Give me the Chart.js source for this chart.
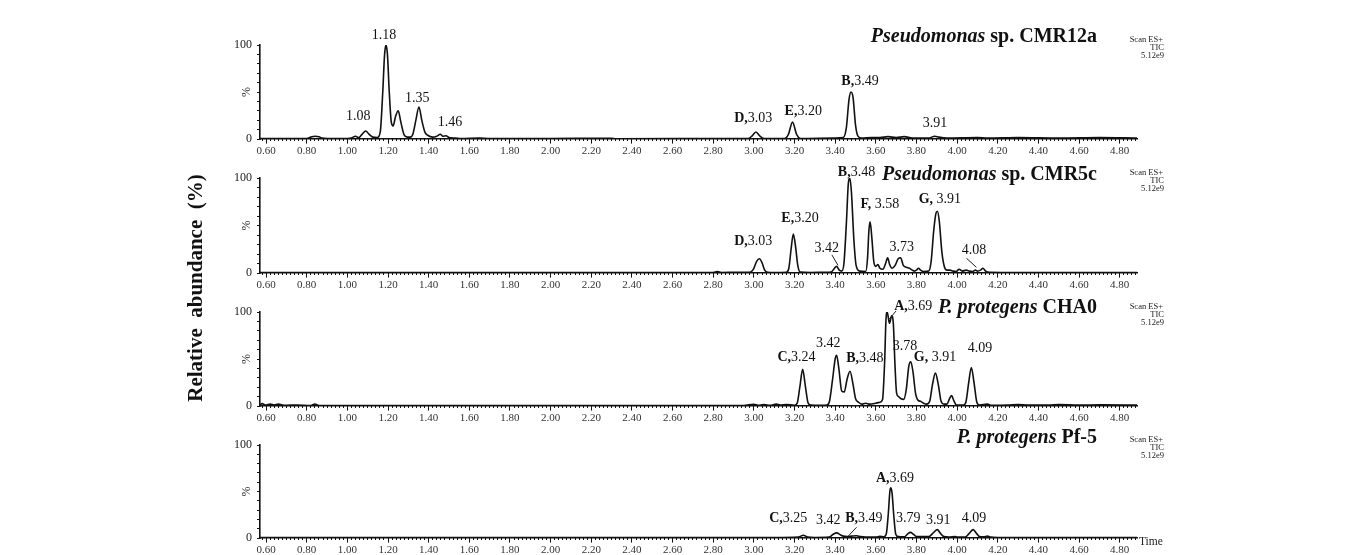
<!DOCTYPE html>
<html>
<head>
<meta charset="utf-8">
<script src="https://cdn.jsdelivr.net/npm/chart.js@4.4.1/dist/chart.umd.min.js"></script>
<style>
html,body{margin:0;padding:0;background:#fff;}
#wrap{position:relative;width:1347px;height:555px;overflow:hidden;background:#fff;}
#wrap canvas{position:absolute;left:0;top:0;}
</style>
</head>
<body>
<div id="wrap">
<canvas id="c1" width="1347" height="555"></canvas>
<canvas id="c2" width="1347" height="555"></canvas>
<canvas id="c3" width="1347" height="555"></canvas>
<canvas id="c4" width="1347" height="555"></canvas>
</div>
<script>
// ---------------- DATA ----------------
// retention time (min) and relative abundance (%)
const cmr12a = [
 [0.57,0.4],[0.70,0.4],[0.80,0.6],[0.82,2],[0.84,3],[0.86,2.5],[0.875,1],[0.90,0.5],[1.00,0.5],[1.02,1],
 [1.04,3],[1.055,1.5],[1.072,5],[1.09,8.5],[1.107,5],[1.125,2],[1.148,1.5],[1.162,8],[1.174,50],[1.183,90],
 [1.19,100],[1.197,90],[1.206,50],[1.216,18],[1.225,14],[1.237,24],[1.25,30],[1.263,18],[1.278,5],[1.295,2],
 [1.31,2],[1.322,5],[1.337,20],[1.352,34],[1.367,19],[1.382,7],[1.395,4],[1.42,2],[1.44,3],[1.457,5],
 [1.47,3],[1.485,3.5],[1.50,1.5],[1.53,1],[1.56,0.5],[1.65,1],[1.70,0.4],[2.00,0.5],[2.30,0.8],[2.32,0.3],
 [2.90,0.4],[2.97,0.5],[2.99,3],[3.01,7.5],[3.03,3],[3.05,0.6],[3.15,0.5],[3.17,5],[3.19,18],[3.21,5],
 [3.23,0.6],[3.40,1],[3.44,1.5],[3.455,12],[3.468,42],[3.478,50],[3.488,44],[3.50,15],[3.512,3],[3.53,1],
 [3.58,1.5],[3.62,1.5],[3.66,2.5],[3.70,1.5],[3.74,2.5],[3.78,1],[3.86,1],[3.89,3],[3.91,2],[3.95,1],
 [4.10,1.5],[4.15,1],[4.30,1.5],[4.50,1],[4.70,1.5],[4.885,1]
];
const cmr5c = [
 [0.57,0.5],[0.70,0.6],[0.90,0.5],[1.20,0.6],[1.60,0.5],[2.00,0.6],[2.40,0.5],[2.80,0.6],[2.82,1.5],[2.84,0.6],
 [2.92,0.8],[2.98,0.8],[2.998,4],[3.013,12],[3.027,15],[3.04,11],[3.053,3],[3.068,0.8],[3.10,0.6],[3.16,0.8],
 [3.172,5],[3.183,25],[3.194,41],[3.205,28],[3.216,8],[3.228,1],[3.28,0.6],[3.35,0.8],[3.38,1],[3.393,4],
 [3.407,7],[3.42,3],[3.432,2],[3.443,10],[3.455,52],[3.465,95],[3.472,100],[3.48,85],[3.492,35],[3.503,8],
 [3.52,2],[3.55,1.5],[3.559,15],[3.566,45],[3.572,54],[3.58,38],[3.59,12],[3.60,7],[3.61,9],[3.62,5],
 [3.635,4],[3.648,10],[3.658,16],[3.668,9],[3.68,5],[3.695,8],[3.71,15],[3.722,16],[3.735,8],[3.75,6],
 [3.765,5],[3.78,3],[3.79,2],[3.80,3],[3.81,5],[3.82,3],[3.835,1.5],[3.86,2],[3.872,12],[3.885,45],
 [3.896,63],[3.903,65],[3.912,55],[3.925,22],[3.938,6],[3.95,3],[3.965,3],[3.98,2],[3.995,1.5],[4.01,4],
 [4.025,2],[4.045,3],[4.06,2],[4.075,1.5],[4.09,3],[4.10,2],[4.115,3],[4.127,5],[4.14,2],[4.16,0.8],
 [4.30,0.6],[4.50,0.6],[4.70,0.5],[4.885,0.5]
];
const cha0 = [
 [0.57,1],[0.58,2.5],[0.60,1],[0.62,2],[0.64,1],[0.66,2],[0.68,1],[0.70,0.8],[0.75,1],[0.82,0.6],
 [0.84,2],[0.86,0.6],[1.00,0.6],[1.50,0.5],[2.00,0.6],[2.50,0.5],[2.95,0.6],[3.00,1.8],[3.02,0.8],[3.05,1.5],
 [3.08,0.8],[3.11,2],[3.13,1],[3.16,1.5],[3.20,0.8],[3.213,3],[3.226,20],[3.24,39],[3.254,20],[3.267,3],
 [3.28,1],[3.33,0.8],[3.36,1],[3.372,5],[3.387,28],[3.40,50],[3.407,54],[3.418,40],[3.432,16],[3.445,15],
 [3.458,28],[3.473,37],[3.487,24],[3.50,8],[3.515,4],[3.53,2],[3.55,3],[3.57,2],[3.60,3],[3.62,4],
 [3.633,7],[3.643,45],[3.65,92],[3.656,100],[3.667,88],[3.678,96],[3.686,88],[3.694,45],[3.702,14],[3.712,10],
 [3.722,8],[3.737,7],[3.75,18],[3.762,42],[3.772,47],[3.783,36],[3.795,14],[3.808,6],[3.82,5],[3.835,3],
 [3.85,2],[3.865,5],[3.878,22],[3.893,35],[3.908,22],[3.92,6],[3.935,2],[3.95,2],[3.963,8],[3.973,11],
 [3.983,6],[3.997,1],[4.03,1],[4.043,4],[4.057,25],[4.07,41],[4.083,25],[4.097,4],[4.11,1],[4.15,2],
 [4.165,0.8],[4.25,1],[4.30,1.5],[4.35,1],[4.45,1],[4.50,1.5],[4.60,1],[4.70,1.2],[4.885,1]
];
const pf5 = [
 [0.57,0.5],[1.00,0.5],[1.50,0.6],[2.00,0.5],[2.50,0.5],[3.00,0.6],[3.10,0.5],[3.22,1],[3.243,3],[3.265,1],
 [3.30,0.6],[3.37,1],[3.39,4],[3.407,5.5],[3.425,3.5],[3.44,2],[3.46,1.5],[3.48,2],[3.505,2.5],[3.525,1.5],
 [3.55,1],[3.60,1],[3.62,1.8],[3.64,1.2],[3.652,5],[3.662,28],[3.669,50],[3.674,54],[3.68,48],[3.688,25],
 [3.698,4],[3.71,1.5],[3.74,1.2],[3.755,4],[3.77,6],[3.785,4],[3.80,1.5],[3.83,1.5],[3.86,1.5],[3.885,6],
 [3.902,9],[3.918,5],[3.935,1.5],[3.96,1],[3.99,1.5],[4.00,1],[4.04,1],[4.06,5],[4.079,9],[4.095,5],
 [4.11,1.5],[4.13,1.2],[4.15,2],[4.165,1],[4.20,0.6],[4.40,0.5],[4.60,0.6],[4.885,0.5]
];

// peak annotations: [bold tag, retention time text, time anchor, abundance anchor]
const cmr12aPeaks = [
 ['', '1.18', 1.18, 110], ['', '1.08', 1.054, 24], ['', '1.35', 1.344, 43], ['', '1.46', 1.505, 18],
 ['D,', '3.03', 2.997, 22], ['E,', '3.20', 3.243, 29], ['B,', '3.49', 3.522, 61], ['', '3.91', 3.891, 17]
];
const cmr5cPeaks = [
 ['B,', '3.48', 3.505, 106], ['D,', '3.03', 2.997, 33], ['E,', '3.20', 3.227, 58], ['', '3.42', 3.358, 26],
 ['F, ', '3.58', 3.62, 72], ['', '3.73', 3.727, 27], ['G, ', '3.91', 3.915, 78], ['', '4.08', 4.083, 24]
];
const cha0Peaks = [
 ['A,', '3.69', 3.784, 106], ['C,', '3.24', 3.21, 52], ['', '3.42', 3.366, 67], ['B,', '3.48', 3.546, 51],
 ['', '3.78', 3.743, 63], ['G, ', '3.91', 3.891, 52], ['', '4.09', 4.112, 61]
];
const pf5Peaks = [
 ['A,', '3.69', 3.694, 64], ['C,', '3.25', 3.169, 21], ['', '3.42', 3.366, 19], ['B,', '3.49', 3.541, 21],
 ['', '3.79', 3.759, 21], ['', '3.91', 3.907, 19], ['', '4.09', 4.083, 21]
];
// leader lines: [t1, v1, t2, v2]
const cmr5cLeaders = [[3.384, 19, 3.414, 8], [4.046, 15.5, 4.095, 6]];
const cha0Leaders = [[3.699, 101, 3.666, 92.5]];
const pf5Leaders = [[3.505, 11.5, 3.464, 2]];

// strain titles: [italic part, upright part]
const strainTitles = [
 ['Pseudomonas', ' sp. CMR12a'],
 ['Pseudomonas', ' sp. CMR5c'],
 ['P. protegens', ' CHA0'],
 ['P. protegens', ' Pf-5']
];
const scanInfo = ['Scan ES+', 'TIC', '5.12e9'];
const timeRange = [0.57, 4.885];
const yTitle = 'Relative  abundance  (%)';

// ---------------- LAYOUT ----------------
const SERIF = '"Liberation Serif", "Times New Roman", serif';
const panels = [
 {id:'c1', series:cmr12a, peaks:cmr12aPeaks, leaders:[], title:strainTitles[0], top:45, bottom:139, titleDy:8},
 {id:'c2', series:cmr5c, peaks:cmr5cPeaks, leaders:cmr5cLeaders, title:strainTitles[1], top:178, bottom:273, titleDy:3},
 {id:'c3', series:cha0, peaks:cha0Peaks, leaders:cha0Leaders, title:strainTitles[2], top:312, bottom:406, titleDy:4},
 {id:'c4', series:pf5, peaks:pf5Peaks, leaders:pf5Leaders, title:strainTitles[3], top:445, bottom:538, titleDy:7}
];

function drawRich(ctx, tag, num, cx, cy, size) {
  const fb = 'bold ' + size + 'px ' + SERIF, fn = size + 'px ' + SERIF;
  ctx.font = fb; const w1 = tag ? ctx.measureText(tag).width : 0;
  ctx.font = fn; const w2 = ctx.measureText(num).width;
  const x0 = cx - (w1 + w2) / 2;
  ctx.textAlign = 'left'; ctx.textBaseline = 'middle';
  if (tag) { ctx.font = fb; ctx.fillText(tag, x0, cy); }
  ctx.font = fn; ctx.fillText(num, x0 + w1, cy);
}

function makeAnnot(p, idx) {
  return {
    id: 'annot' + idx,
    afterDraw(chart) {
      const ctx = chart.ctx, xs = chart.scales.x, ys = chart.scales.y, ca = chart.chartArea;
      ctx.save();
      ctx.fillStyle = '#111';
      p.peaks.forEach(([tag, num, t, v]) => {
        drawRich(ctx, tag, num, xs.getPixelForValue(t), ys.getPixelForValue(v), 14);
      });
      ctx.strokeStyle = '#222'; ctx.lineWidth = 1;
      p.leaders.forEach(([t1, v1, t2, v2]) => {
        ctx.beginPath();
        ctx.moveTo(xs.getPixelForValue(t1), ys.getPixelForValue(v1));
        ctx.lineTo(xs.getPixelForValue(t2), ys.getPixelForValue(v2));
        ctx.stroke();
      });
      // strain title, right aligned
      const fi = 'italic bold 20px ' + SERIF, fu = 'bold 20px ' + SERIF;
      ctx.font = fu; const wu = ctx.measureText(p.title[1]).width;
      ctx.font = fi; const wi = ctx.measureText(p.title[0]).width;
      const right = 1097, ty = ca.top - p.titleDy;
      ctx.textBaseline = 'middle'; ctx.textAlign = 'left';
      ctx.font = fi; ctx.fillText(p.title[0], right - wu - wi, ty);
      ctx.font = fu; ctx.fillText(p.title[1], right - wu, ty);
      // scan info
      ctx.font = '8.5px ' + SERIF; ctx.textAlign = 'right'; ctx.fillStyle = '#222';
      ctx.fillText(scanInfo[0], 1163, ca.top - 5);
      ctx.fillText(scanInfo[1], 1164, ca.top + 3);
      ctx.fillText(scanInfo[2], 1164, ca.top + 11);
      // rotated % symbol
      ctx.save();
      ctx.translate(247, (ca.top + ca.bottom) / 2);
      ctx.rotate(-Math.PI / 2);
      ctx.font = '12px ' + SERIF; ctx.textAlign = 'center'; ctx.textBaseline = 'middle'; ctx.fillStyle = '#222';
      ctx.fillText('%', 0, 0);
      ctx.restore();
      if (idx === 0) {
        ctx.save();
        ctx.translate(197, 288);
        ctx.rotate(-Math.PI / 2);
        ctx.font = 'bold 21px ' + SERIF; ctx.textAlign = 'center'; ctx.textBaseline = 'middle'; ctx.fillStyle = '#111';
        ctx.fillText(yTitle, 0, 0);
        ctx.restore();
      }
      if (idx === 3) {
        ctx.font = '11.5px ' + SERIF; ctx.textAlign = 'left'; ctx.textBaseline = 'middle'; ctx.fillStyle = '#222';
        ctx.fillText('Time', 1139, ca.bottom + 4);
      }
      ctx.restore();
    }
  };
}

panels.forEach((p, idx) => {
  new Chart(document.getElementById(p.id), {
    type: 'line',
    data: {
      datasets: [{
        data: p.series.map(([x, y]) => ({x, y})),
        xAxisID: 'x', yAxisID: 'y',
        borderColor: '#111', borderWidth: 1.6,
        pointRadius: 0, fill: false,
        cubicInterpolationMode: 'monotone'
      }]
    },
    options: {
      responsive: false, animation: false, devicePixelRatio: 1,
      layout: {padding: {left: 230, right: 210, top: p.top, bottom: 555 - p.bottom}},
      plugins: {legend: {display: false}, tooltip: {enabled: false}},
      events: [],
      scales: {
        x: {
          type: 'linear', min: timeRange[0], max: timeRange[1], position: {y: 0},
          ticks: {stepSize: 0.2, includeBounds: false, autoSkip: false, maxRotation: 0, minRotation: 0,
                  callback: v => v.toFixed(2), color: '#333', padding: 2,
                  font: {family: SERIF, size: 11}},
          grid: {drawOnChartArea: false, drawTicks: true, tickLength: 4, color: '#111', tickWidth: 1},
          border: {display: true, color: '#111', width: 1.6}
        },
        xm: {
          type: 'linear', axis: 'x', min: timeRange[0], max: timeRange[1], position: {y: 0},
          ticks: {stepSize: 0.02, includeBounds: false, autoSkip: false, display: false},
          grid: {drawOnChartArea: false, drawTicks: true, tickLength: 2, color: '#111', tickWidth: 1},
          border: {display: false}
        },
        y: {
          type: 'linear', min: 0, max: 100, position: 'left',
          ticks: {stepSize: 10, autoSkip: false, padding: 5, color: '#222',
                  callback: v => (v === 0 ? '0' : v === 100 ? '100' : ''),
                  font: {family: SERIF, size: 12}},
          grid: {drawOnChartArea: false, drawTicks: true, tickLength: 3, color: '#111'},
          border: {display: true, color: '#111', width: 1.6},
          afterFit: s => { s.width = 30; }
        }
      }
    },
    plugins: [makeAnnot(p, idx)]
  });
});
</script>
</body>
</html>
